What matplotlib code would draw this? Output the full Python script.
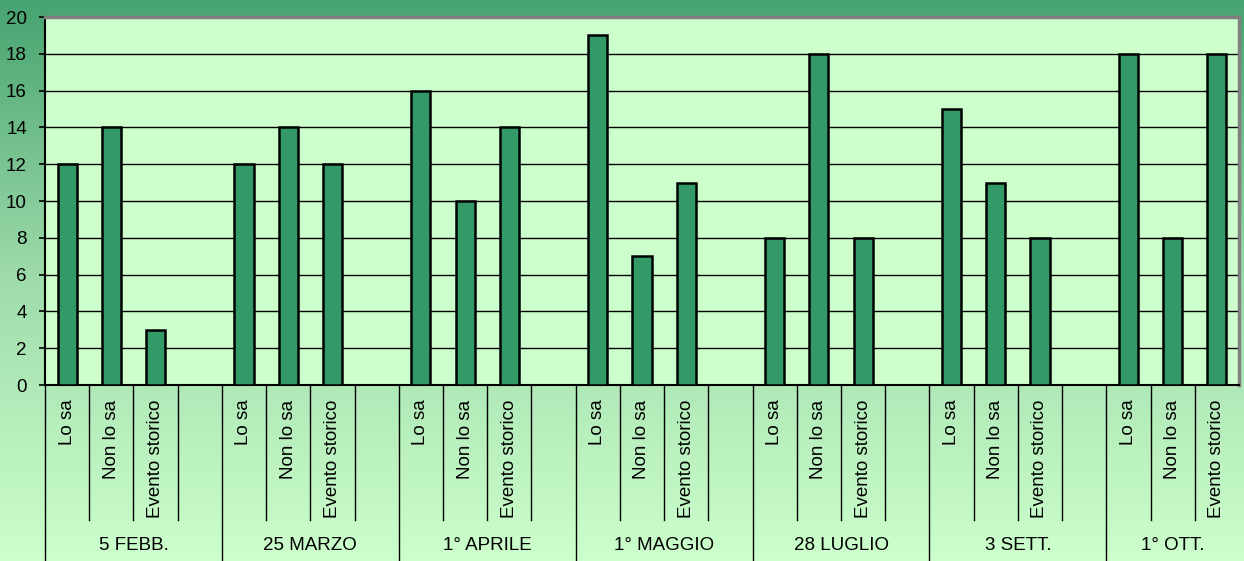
import numpy as np
import matplotlib
matplotlib.use("Agg")
import matplotlib.pyplot as plt
from matplotlib.colors import LinearSegmentedColormap

plt.rcParams['font.family'] = ['Liberation Sans', 'DejaVu Sans']

# Dati
date = ["5 FEBB.", "25 MARZO", "1° APRILE", "1° MAGGIO", "28 LUGLIO", "3 SETT.", "1° OTT."]
risposte = ["Lo sa", "Non lo sa", "Evento storico"]
lo_sa = [12, 12, 16, 19, 8, 15, 18]
non_lo_sa = [14, 14, 10, 7, 18, 11, 8]
evento_storico = [3, 12, 14, 11, 8, 8, 18]

# Ogni gruppo occupa 4 posizioni (3 barre + una vuota), l'ultimo solo 3
n_slot = 4 * len(date) - 1
x_pos, valori, etichette = [], [], []
for g in range(len(date)):
    for k, serie in enumerate([lo_sa, non_lo_sa, evento_storico]):
        x_pos.append(4 * g + k)
        valori.append(serie[g])
        etichette.append(risposte[k])

fig = plt.figure(figsize=(12.44, 5.61), dpi=100)

# Sfondo sfumato della figura
bg = fig.add_axes([0, 0, 1, 1], zorder=-10)
cmap = LinearSegmentedColormap.from_list("sfondo", ["#46a36f", "#9fdcab", "#ccffcc"])
grad = np.linspace(0, 1, 256).reshape(-1, 1)
bg.imshow(grad, aspect="auto", cmap=cmap, extent=[0, 1, 0, 1], origin="upper")
bg.axis("off")

ax = fig.add_axes([45 / 1244, 176 / 561, 1194 / 1244, 368 / 561])
ax.set_facecolor("#ccffcc")

ax.bar(x_pos, valori, width=0.43, color="#339966", edgecolor="black", linewidth=1.8, zorder=3)

ax.set_xlim(-0.5, n_slot - 0.5)
ax.set_ylim(0, 20)
ax.set_yticks(np.arange(0, 21, 2))
ax.yaxis.grid(True, color="black", linewidth=1)
ax.set_axisbelow(True)
ax.set_xticks([])
ax.tick_params(axis="y", labelsize=13.5, length=4, width=1.2, pad=9, direction="out")

ax.spines["left"].set_linewidth(1.5)
ax.spines["bottom"].set_linewidth(1.5)
ax.spines["top"].set_color("#808080")
ax.spines["top"].set_linewidth(2.5)
ax.spines["right"].set_color("#808080")
ax.spines["right"].set_linewidth(2.5)

# Etichette a due livelli sotto l'asse x
trans = ax.get_xaxis_transform()
for x, lab in zip(x_pos, etichette):
    ax.text(x, -0.04, lab, transform=trans, rotation=90, ha="center", va="top",
            fontsize=13.5, clip_on=False)

for b in range(n_slot):
    xb = b - 0.5
    if b % 4 == 0:
        ax.plot([xb, xb], [0, -0.48], transform=trans, color="black", lw=1, clip_on=False)
    else:
        ax.plot([xb, xb], [0, -0.367], transform=trans, color="black", lw=1, clip_on=False)

for g, d in enumerate(date):
    centro = 4 * g + (1.5 if g < len(date) - 1 else 1)
    ax.text(centro, -0.4375, d, transform=trans, ha="center", va="center",
            fontsize=13.5, clip_on=False)

fig.savefig("out.png", dpi=100)
